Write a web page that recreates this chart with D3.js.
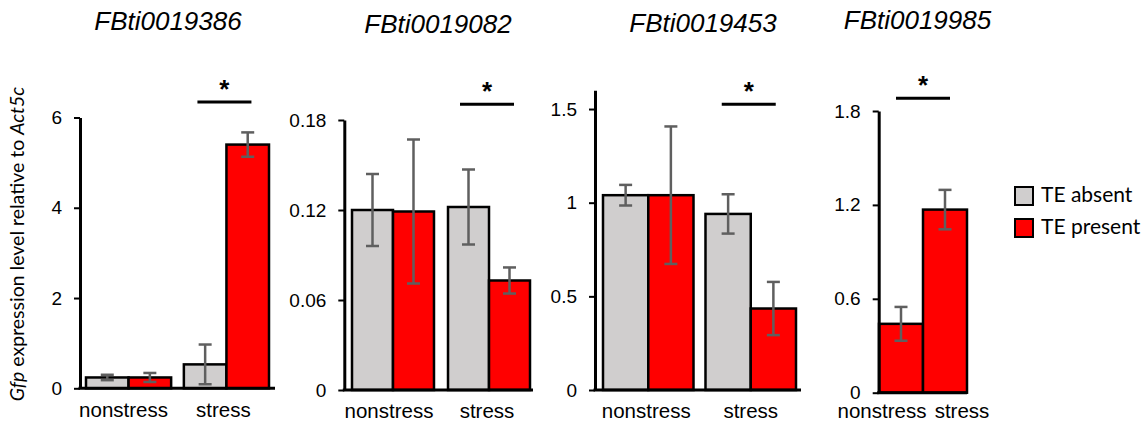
<!DOCTYPE html>
<html>
<head>
<meta charset="utf-8">
<script src="https://cdn.jsdelivr.net/npm/d3@7"></script>
<style>
  body { margin: 0; background: #fff; }
  svg { display: block; }
</style>
</head>
<body>
<div id="chart"></div>
<script>
// Data
const genes = ["FBti0019386", "FBti0019082", "FBti0019453", "FBti0019985"];
const conditions = ["nonstress", "stress"];
const absentMean = [[0.24, 0.53], [0.120, 0.122], [1.04, 0.94], null];
const absentErr = [[0.06, 0.44], [0.024, 0.025], [0.055, 0.105], null];
const presentMean = [[0.24, 5.40], [0.119, 0.073], [1.04, 0.435], [0.44, 1.17]];
const presentErr = [[0.10, 0.27], [0.048, 0.0087], [0.367, 0.142], [0.108, 0.126]];
const yMax = [6, 0.18, 1.6, 1.8];
const yTicks = [[0, 2, 4, 6], [0, 0.06, 0.12, 0.18], [0, 0.5, 1, 1.5], [0, 0.6, 1.2, 1.8]];
const sigGroup = ["stress", "stress", "stress", "both"];
const legendLabels = ["TE absent", "TE present"];

const colors = { absent: "#d0cece", present: "#ff0000" };

// Panel placement (pixels)
const layout = [
  { x0: 80, x1: 275, b0: 86, b1: 269, pad: 0.13, yTop: 117.5, yBase: 388.3, titleX: 168, titleY: 29.5, sigY: 102, labelShift: [-5, -3] },
  { x0: 344.3, x1: 533, b0: 352, b1: 530, pad: 0.146, yTop: 120, yBase: 390, titleX: 438, titleY: 33, sigY: 104.3, labelShift: [-4, -2] },
  { x0: 595, x1: 801, b0: 603, b1: 796, pad: 0.117, yTop: 90.3, yBase: 390, titleX: 703, titleY: 32, sigY: 104.3, labelShift: [-2, 0] },
  { x0: 878.7, x1: 967, b0: 879, b1: 967, pad: 0, yTop: 111, yBase: 392.7, titleX: 917.5, titleY: 28.5, sigY: 98.3, labelShift: [-19, 17] }
];

const W = 1147, H = 423;
const arial = "'Liberation Sans', Arial, sans-serif";
const calibri = "Lato, 'Open Sans', sans-serif";

const svg = d3.select("#chart").append("svg")
  .attr("width", W)
  .attr("height", H);

genes.forEach((gene, i) => {
  const L = layout[i];
  const g = svg.append("g");

  const y = d3.scaleLinear().domain([0, yMax[i]]).range([L.yBase, L.yTop]);
  const x = d3.scaleBand().domain(conditions).range([L.b0, L.b1]).paddingInner(L.pad);
  const series = absentMean[i] ? ["absent", "present"] : ["present"];
  const xs = d3.scaleBand().domain(series).range([0, x.bandwidth()]);

  const bars = [];
  conditions.forEach((c, j) => {
    series.forEach(s => {
      const mean = s === "absent" ? absentMean[i][j] : presentMean[i][j];
      const err = s === "absent" ? absentErr[i][j] : presentErr[i][j];
      bars.push({ c, s, mean, err });
    });
  });

  // Bars
  g.selectAll("rect.bar").data(bars).join("rect")
    .attr("class", "bar")
    .attr("x", d => x(d.c) + xs(d.s))
    .attr("y", d => y(d.mean))
    .attr("width", xs.bandwidth())
    .attr("height", d => y(0) - y(d.mean))
    .attr("fill", d => colors[d.s])
    .attr("stroke", "#000")
    .attr("stroke-width", 2.5);

  // Error bars
  const cx = d => x(d.c) + xs(d.s) + xs.bandwidth() / 2;
  const eb = g.selectAll("g.err").data(bars).join("g")
    .attr("class", "err")
    .attr("stroke", "#5f5f5f")
    .attr("stroke-width", 2.5);
  eb.append("line")
    .attr("x1", cx).attr("x2", cx)
    .attr("y1", d => y(d.mean + d.err)).attr("y2", d => y(d.mean - d.err));
  eb.append("line")
    .attr("x1", d => cx(d) - 6.5).attr("x2", d => cx(d) + 6.5)
    .attr("y1", d => y(d.mean + d.err)).attr("y2", d => y(d.mean + d.err));
  eb.append("line")
    .attr("x1", d => cx(d) - 6.5).attr("x2", d => cx(d) + 6.5)
    .attr("y1", d => y(d.mean - d.err)).attr("y2", d => y(d.mean - d.err));

  // Y axis
  const axis = g.append("g")
    .attr("transform", `translate(${L.x0},0)`)
    .call(d3.axisLeft(y)
      .tickValues(yTicks[i])
      .tickSize(6)
      .tickSizeOuter(0)
      .tickPadding(12)
      .tickFormat(d => String(+d.toFixed(2))));
  axis.select(".domain").attr("stroke", "#000").attr("stroke-width", 3);
  axis.selectAll(".tick line").attr("stroke", "#000").attr("stroke-width", 2);
  axis.selectAll(".tick text")
    .attr("fill", "#000")
    .style("font-family", arial)
    .style("font-size", "19px");

  // Baseline
  g.append("line")
    .attr("x1", L.x0 - 1.5).attr("x2", L.x1)
    .attr("y1", y(0)).attr("y2", y(0))
    .attr("stroke", "#000").attr("stroke-width", 3);

  // Category labels
  g.selectAll("text.cat").data(conditions).join("text")
    .attr("class", "cat")
    .attr("x", (c, j) => x(c) + x.bandwidth() / 2 + L.labelShift[j])
    .attr("y", Math.min(y(0) + 29, 418))
    .attr("text-anchor", "middle")
    .style("font-family", arial)
    .style("font-size", "20.5px")
    .attr("fill", "#000")
    .text(c => c);

  // Title
  g.append("text")
    .attr("x", L.titleX)
    .attr("y", L.titleY)
    .attr("text-anchor", "middle")
    .style("font-family", arial)
    .style("font-style", "italic")
    .style("font-size", "26px")
    .attr("fill", "#000")
    .text(gene);

  // Significance marker
  const sc = sigGroup[i] === "both"
    ? (L.b0 + L.b1) / 2
    : x(sigGroup[i]) + x.bandwidth() / 2 - 2;
  g.append("line")
    .attr("x1", sc - 27).attr("x2", sc + 27)
    .attr("y1", L.sigY).attr("y2", L.sigY)
    .attr("stroke", "#000").attr("stroke-width", 3);
  g.append("text")
    .attr("x", sc)
    .attr("y", L.sigY - 4)
    .attr("text-anchor", "middle")
    .style("font-family", arial)
    .style("font-weight", "bold")
    .style("font-size", "26px")
    .attr("fill", "#000")
    .text("*");
});

// Y-axis title
const yl = svg.append("text")
  .attr("transform", "translate(24,244) rotate(-90)")
  .attr("text-anchor", "middle")
  .style("font-family", calibri)
  .style("font-size", "19.5px")
  .attr("fill", "#000");
yl.append("tspan").style("font-style", "italic").text("Gfp");
yl.append("tspan").text(" expression level relative to ");
yl.append("tspan").style("font-style", "italic").text("Act5c");

// Legend
const legend = svg.append("g").attr("transform", "translate(1015,187)");
legendLabels.forEach((lab, k) => {
  legend.append("rect")
    .attr("x", 0).attr("y", k * 32)
    .attr("width", 18).attr("height", 18)
    .attr("fill", k === 0 ? colors.absent : colors.present)
    .attr("stroke", "#000").attr("stroke-width", 2);
  legend.append("text")
    .attr("x", 26).attr("y", k * 32 + 15)
    .style("font-family", calibri)
    .style("font-size", "21px")
    .attr("fill", "#000")
    .text(lab);
});
</script>
</body>
</html>
